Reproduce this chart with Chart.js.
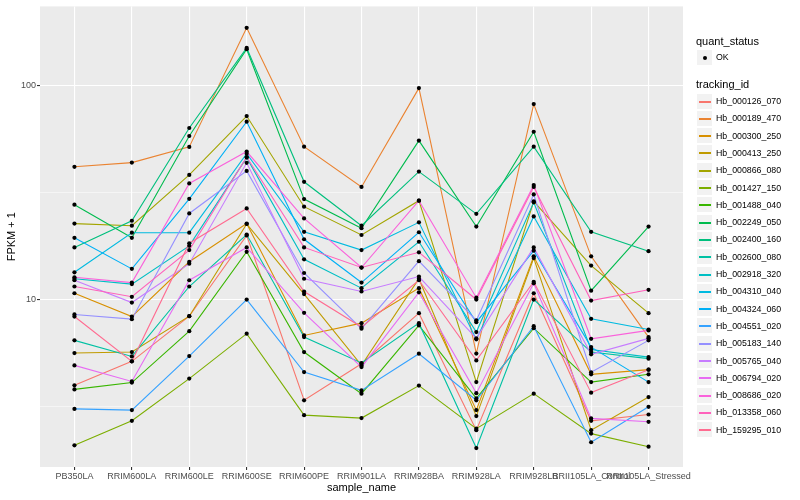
<!DOCTYPE html>
<html>
<head>
<meta charset="utf-8">
<title>FPKM per sample</title>
<script src="https://cdn.jsdelivr.net/npm/chart.js@4.4.1/dist/chart.umd.min.js"></script>
<style>
  body { margin: 0; background: #fff; font-family: "Liberation Sans", Arial, sans-serif; }
  #wrap { position: relative; width: 800px; height: 500px; }
  .ltitle { position: absolute; left: 696px; font-size: 11px; line-height: 14px; color: #000; white-space: nowrap; }
  .lkey { position: absolute; left: 697px; width: 15px; height: 15px; background: #F2F2F2; }
  .lkey span { position: absolute; left: 2px; top: 7px; width: 12px; height: 2px; }
  .lkey i { position: absolute; left: 6px; top: 6px; width: 4px; height: 4px; border-radius: 50%; background: #000; }
  .ltext { position: absolute; left: 716px; font-size: 8.8px; line-height: 10px; color: #000; white-space: nowrap; }
</style>
</head>
<body>
<div id="wrap">
  <canvas id="fpkmChart" width="800" height="500"></canvas>
</div>
<script>
// eixo x (amostras) e quebras do eixo y
const sampleNames = ['PB350LA', 'RRIM600LA', 'RRIM600LE', 'RRIM600SE', 'RRIM600PE', 'RRIM901LA',
  'RRIM928BA', 'RRIM928LA', 'RRIM928LB', 'RRII105LA_Control', 'RRII105LA_Stressed'];
const majorBreaks = [10, 100];
const minorBreaks = [3.162, 31.62];

// FPKM + 1 por gene, na ordem das amostras
const hb_000126_070 = [3.98, 5.15, 8.36, 19.9, 3.39, 5.02, 8.64, 2.46, 10.7, 2.72, 2.91];
const hb_000189_470 = [41.6, 43.5, 51.5, 185, 51.6, 33.5, 96.8, 5.6, 81.6, 15.9, 6.68];
const hb_000300_250 = [10.7, 8.33, 15.0, 22.6, 6.8, 7.76, 11.3, 3.05, 15.9, 4.48, 4.71];
const hb_000413_250 = [5.63, 5.69, 8.36, 22.5, 10.6, 4.93, 12.5, 2.86, 15.6, 2.46, 3.51];
const hb_000866_080 = [22.6, 22.1, 38.1, 71.7, 27.1, 20.0, 28.9, 4.12, 28.7, 14.4, 8.64];
const hb_001427_150 = [2.09, 2.72, 4.28, 6.93, 2.89, 2.80, 3.97, 2.50, 3.64, 2.37, 2.06];
const hb_001488_040 = [3.81, 4.10, 7.12, 16.7, 5.69, 3.64, 7.57, 3.46, 7.35, 4.12, 4.48];
const hb_002249_050 = [27.7, 19.4, 57.9, 147, 29.4, 21.5, 55.1, 21.9, 60.6, 11.0, 21.9];
const hb_002400_160 = [17.5, 23.3, 63.1, 149, 35.4, 22.1, 39.5, 25.1, 51.6, 20.7, 16.8];
const hb_002600_080 = [6.45, 5.43, 11.5, 20.1, 6.68, 5.06, 7.76, 2.03, 10.0, 5.69, 5.30];
const hb_002918_320 = [12.5, 11.8, 17.8, 45.9, 15.4, 11.3, 18.6, 7.05, 28.4, 5.85, 5.39];
const hb_004310_040 = [13.4, 20.5, 20.5, 47.9, 20.7, 17.0, 22.9, 6.52, 24.4, 8.13, 7.25];
const hb_004324_060 = [19.4, 13.9, 29.5, 67.5, 19.1, 12.0, 20.6, 7.84, 16.9, 6.0, 4.12];
const hb_004551_020 = [3.09, 3.05, 5.45, 10.0, 4.59, 3.77, 5.59, 3.39, 7.51, 2.16, 3.16];
const hb_005183_140 = [8.52, 8.10, 25.2, 39.8, 13.3, 7.31, 15.1, 7.99, 30.9, 4.58, 6.45];
const hb_005765_040 = [12.3, 9.68, 14.7, 43.4, 12.5, 10.9, 12.8, 6.59, 17.5, 5.55, 6.59];
const hb_006794_020 = [4.93, 4.15, 12.3, 17.5, 8.67, 4.84, 10.8, 3.66, 11.9, 2.79, 2.69];
const hb_008686_020 = [12.7, 12.0, 34.8, 49.0, 23.9, 14.1, 28.9, 10.2, 34.2, 6.56, 7.18];
const hb_013358_060 = [11.5, 10.3, 17.0, 46.2, 17.5, 14.1, 16.6, 10.0, 33.5, 9.89, 11.1];
const hb_159295_010 = [8.33, 5.15, 18.3, 26.6, 10.9, 7.44, 12.3, 5.20, 12.1, 3.68, 4.71];

const trackingIds = ['Hb_000126_070', 'Hb_000189_470', 'Hb_000300_250', 'Hb_000413_250', 'Hb_000866_080',
  'Hb_001427_150', 'Hb_001488_040', 'Hb_002249_050', 'Hb_002400_160', 'Hb_002600_080',
  'Hb_002918_320', 'Hb_004310_040', 'Hb_004324_060', 'Hb_004551_020', 'Hb_005183_140',
  'Hb_005765_040', 'Hb_006794_020', 'Hb_008686_020', 'Hb_013358_060', 'Hb_159295_010'];
const seriesValues = [hb_000126_070, hb_000189_470, hb_000300_250, hb_000413_250, hb_000866_080,
  hb_001427_150, hb_001488_040, hb_002249_050, hb_002400_160, hb_002600_080,
  hb_002918_320, hb_004310_040, hb_004324_060, hb_004551_020, hb_005183_140,
  hb_005765_040, hb_006794_020, hb_008686_020, hb_013358_060, hb_159295_010];

// paleta hue do ggplot para 20 niveis
const hueColors = ['#F8766D', '#EA8331', '#D89000', '#C09B00', '#A3A500', '#7CAE00', '#39B600',
  '#00BB4E', '#00BF7D', '#00C1A3', '#00BFC4', '#00BAE0', '#00B0F6', '#35A2FF', '#9590FF',
  '#C77CFF', '#E76BF3', '#FA62DB', '#FF62BC', '#FF6C91'];

const fontFamily = '"Liberation Sans", Arial, sans-serif';

const lineSets = trackingIds.map((id, i) => ({
    label: id,
    data: seriesValues[i].map((v, j) => ({ x: j, y: v })),
    showLine: true,
    borderColor: hueColors[i],
    borderWidth: 1.1,
    pointRadius: 0,
    fill: false,
    tension: 0,
    order: 100 - i
}));

const pointSet = {
    label: 'OK',
    data: seriesValues.flatMap(vals => vals.map((v, j) => ({ x: j, y: v }))),
    showLine: false,
    pointRadius: 2.1,
    pointBackgroundColor: '#000',
    pointBorderWidth: 0,
    order: 0
};

// fundo cinza do painel
const panelBg = {
    id: 'panelBg',
    beforeDraw(chart) {
        const { ctx, chartArea: a } = chart;
        ctx.save();
        ctx.fillStyle = '#EBEBEB';
        ctx.fillRect(a.left, a.top, a.right - a.left, a.bottom - a.top);
        ctx.restore();
    }
};

const isMajor = v => majorBreaks.some(b => Math.abs(b - v) < 1e-6);

var ctx = document.getElementById('fpkmChart').getContext('2d');
var fpkmChart = new Chart(ctx, {
    type: 'scatter',
    data: { datasets: [...lineSets, pointSet] },
    plugins: [panelBg],
    options: {
        responsive: false,
        animation: false,
        layout: { padding: { left: 0, right: 117, top: 5, bottom: 0 } },
        plugins: { legend: { display: false }, tooltip: { enabled: false } },
        scales: {
            x: {
                type: 'linear',
                min: -0.6,
                max: 10.6,
                afterBuildTicks: s => { s.ticks = sampleNames.map((_, i) => ({ value: i })); },
                afterFit: s => { s.height = 33; },
                ticks: {
                    autoSkip: false, maxRotation: 0, minRotation: 0, padding: 1,
                    color: '#4D4D4D', font: { size: 9, family: fontFamily },
                    callback: v => sampleNames[v]
                },
                grid: { color: '#FFFFFF', lineWidth: 1.1, tickColor: '#333333', tickLength: 3 },
                border: { display: false },
                title: {
                    display: true, text: 'sample_name', color: '#000',
                    font: { size: 11, family: fontFamily }, padding: { top: 0, bottom: 5 }
                }
            },
            y: {
                type: 'logarithmic',
                min: 1.656,
                max: 232.8,
                afterBuildTicks: s => {
                    s.ticks = [...minorBreaks, ...majorBreaks].sort((a, b) => a - b).map(v => ({ value: v }));
                },
                afterFit: s => { s.width = 40; },
                ticks: {
                    padding: 1, color: '#4D4D4D', font: { size: 9, family: fontFamily },
                    callback: v => isMajor(v) ? String(v) : ''
                },
                grid: {
                    color: '#FFFFFF',
                    lineWidth: c => isMajor(c.tick.value) ? 1.1 : 0.5,
                    tickColor: c => isMajor(c.tick.value) ? '#333333' : 'rgba(0,0,0,0)',
                    tickLength: 3
                },
                border: { display: false },
                title: {
                    display: true, text: 'FPKM + 1', color: '#000',
                    font: { size: 11, family: fontFamily }, padding: { top: 5, bottom: 0 }
                }
            }
        }
    }
});

// legenda no estilo ggplot
const wrap = document.getElementById('wrap');
function addEl(cls, top, html) {
    const el = document.createElement('div');
    el.className = cls;
    el.style.top = Math.round(top) + 'px';
    el.innerHTML = html;
    wrap.appendChild(el);
}
addEl('ltitle', 34, 'quant_status');
addEl('lkey', 50, '<i></i>');
addEl('ltext', 52, 'OK');
addEl('ltitle', 77, 'tracking_id');
trackingIds.forEach((id, i) => {
    const cy = 101 + 17.3 * i;
    addEl('lkey', cy - 7.5, `<span style="background:${hueColors[i]}"></span>`);
    addEl('ltext', cy - 5, id);
});
</script>
</body>
</html>
